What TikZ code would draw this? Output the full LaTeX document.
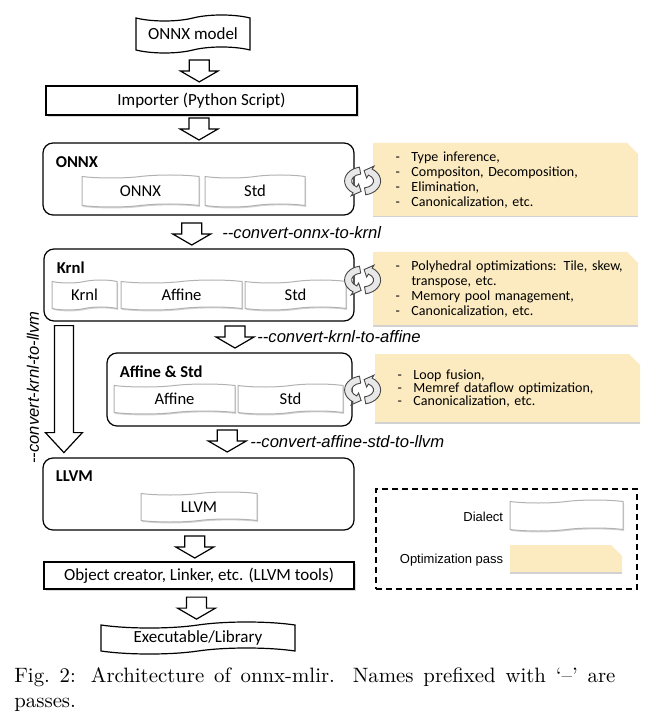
\documentclass[tikz,border=0pt]{standalone}
\usepackage{fontspec}
\usetikzlibrary{shapes.symbols,shadows,calc}
\newfontfamily\calib{Carlito}
\newfontfamily\arial{Liberation Sans}
\definecolor{passyellow}{RGB}{252,235,192}

\tikzset{
  container/.style={draw=black, line width=0.6pt, rounded corners=5pt, minimum width=155.5pt, minimum height=36pt},
  dialect/.style={tape, draw=gray!60, line width=0.5pt, fill=white, tape bend top=in and out, tape bend bottom=in and out, tape bend height=1.5pt, minimum height=15pt, inner sep=0pt, font=\calib\fontsize{8.3}{10}\selectfont, drop shadow={shadow xshift=0.5pt, shadow yshift=-0.7pt, opacity=0.35}},
  title/.style={anchor=west, inner sep=0pt, font=\calib\bfseries\fontsize{8.3}{10}\selectfont},
  toolbox/.style={draw=black, line width=0.6pt, fill=white, inner sep=0pt, font=\calib\fontsize{8.5}{10}\selectfont, drop shadow={shadow xshift=0.8pt, shadow yshift=-0.8pt, opacity=0.3}},
  filebox/.style={tape, draw=black, line width=0.6pt, fill=white, tape bend top=in and out, tape bend bottom=in and out, tape bend height=3pt, inner sep=0pt, font=\calib\fontsize{8.5}{10}\selectfont},
  passbox/.style={rectangle, inner sep=0pt, path picture={
      \fill[passyellow] (path picture bounding box.south west) -- (path picture bounding box.south east)
        -- ($(path picture bounding box.north east)+(0,-5.5pt)$) -- ($(path picture bounding box.north east)+(-5.5pt,0)$)
        -- (path picture bounding box.north west) -- cycle;
      \draw[gray!35, line width=0.8pt] (path picture bounding box.south west) -- (path picture bounding box.south east);}},
  passtext/.style={passbox, inner xsep=11.25pt, text width=110pt, align=left, font=\calib\fontsize{7}{7.5}\selectfont},
  passname/.style={anchor=west, inner sep=0pt, font=\arial\itshape\fontsize{8.3}{10}\selectfont},
  legtext/.style={anchor=east, inner sep=0pt, font=\arial\fontsize{6.5}{8}\selectfont},
  blockarr/.style={draw=black, line width=0.6pt, fill=white},
  turnarr/.style={draw=gray!55!black, line width=0.45pt, fill=gray!18}
}

% hollow arrow pointing down, centred between two anchors
\newcommand{\blockdown}[3][0,0]{%
  \draw[blockarr] ($(#2)!0.5!(#3)+(#1)+(-10,-11)$) -- ++(20,0) -- ++(0,11) -- ++(9,0)
    -- ++(-19,11) -- ++(-19,-11) -- ++(9,0) -- cycle;}
% pair of turning arrows next to a dialect box
\newcommand{\turnarrows}[1]{%
  \begin{scope}[shift={#1}, yscale=-1]
    \draw[turnarr] (100:18 and 14) arc[start angle=100, end angle=238, x radius=18, y radius=14]
      -- (238:21.5 and 17.5) -- (264:14.5 and 10.5) -- (238:7.5 and 3.5) -- (238:11 and 7)
      arc[start angle=238, end angle=100, x radius=11, y radius=7] -- cycle;
    \draw[turnarr] (280:18 and 14) arc[start angle=280, end angle=418, x radius=18, y radius=14]
      -- (418:21.5 and 17.5) -- (444:14.5 and 10.5) -- (418:7.5 and 3.5) -- (418:11 and 7)
      arc[start angle=418, end angle=280, x radius=11, y radius=7] -- cycle;
  \end{scope}}
\newcommand{\passline}[1]{\mbox{\makebox[8pt][l]{-}#1}}

\begin{document}
\begin{tikzpicture}[x=0.5pt,y=-0.5pt]
    \useasboundingbox (0,0) rectangle (648,715);

    % main flow
    \node[filebox, minimum width=57pt, minimum height=19pt] (M) at (193,34) {ONNX model};
    \node[toolbox, minimum width=155.5pt, minimum height=14.5pt] (I) at (201.5,100.5) {Importer (Python Script)};

    \node[container] (O) at (198.5,179) {};
    \node[title] (Ot) at ($(O.north west)+(13,20)$) {ONNX};
    \node[dialect, minimum width=58.5pt, minimum height=16pt] (Oa) at (140.5,191) {ONNX};
    \node[dialect, minimum width=50pt, minimum height=16pt] (Ob) at (255,191) {Std};

    \node[container, minimum width=155pt] (K) at (199,285) {};
    \node[title] (Kt) at ($(K.north west)+(13,19)$) {Krnl};
    \node[dialect, minimum width=32.5pt] (Ka) at (84.5,295) {Krnl};
    \node[dialect, minimum width=60.5pt] (Kb) at (181.5,295) {Affine};
    \node[dialect, minimum width=50.5pt] (Kc) at (295.5,295) {Std};

    \node[container, minimum width=122.5pt, minimum height=36.5pt] (A) at (229.5,389.5) {};
    \node[title] (At) at ($(A.north west)+(13,19)$) {Affine \& Std};
    \node[dialect, minimum width=60.5pt] (Aa) at (174.5,399) {Affine};
    \node[dialect, minimum width=52.5pt] (Ab) at (290.5,399) {Std};

    \node[container] (L) at (198.5,494) {};
    \node[title] (Lt) at ($(L.north west)+(13,19)$) {LLVM};
    \node[dialect, minimum width=58pt] (La) at (199,507) {LLVM};

    \node[toolbox, minimum width=155pt, minimum height=13.5pt] (B) at (199,575.5) {Object creator, Linker, etc. (LLVM tools)};
    \node[filebox, minimum width=97pt, minimum height=16pt] (E) at (198,638) {Executable/Library};

    % arrows between stages
    \blockdown[2,3]{M.south}{I.north}
    \blockdown[-1,0]{I.south}{O.north}
    \blockdown[-7,2]{O.south}{K.north}
    \blockdown[20.75,0]{K.south}{A.north}
    \blockdown[13.25,-1]{A.south}{L.north}
    \blockdown[-4,1]{L.south}{B.north}
    \blockdown[-2,1]{B.south}{E.north}
    \draw[blockarr] ($(K.south west)+(11,4)$) -- ++(19,0) -- ++(0,107) -- ++(9,0)
      -- ++(-18.5,20) -- ++(-18.5,-20) -- ++(9,0) -- cycle;

    % pass names
    \node[passname] (c1) at (222,233) {-{}-convert-onnx-to-krnl};
    \node[passname] (c2) at (257,337) {-{}-convert-krnl-to-affine};
    \node[passname] (c3) at (250,442) {-{}-convert-affine-std-to-llvm};
    \node[passname, anchor=center, rotate=90] (c4) at (33,387.5) {-{}-convert-krnl-to-llvm};

    % optimization passes
    \node[passtext, minimum height=37pt] (P1) at (505.5,180)
      {\passline{Type inference,}\\ \passline{Compositon, Decomposition,}\\ \passline{Elimination,}\\ \passline{Canonicalization, etc.}};
    \node[passtext, minimum height=37pt] (P2) at (505.5,289)
      {\passline{Polyhedral optimizations: Tile, skew,}\\ \hspace*{8pt}transpose, etc.\\ \passline{Memory pool management,}\\ \passline{Canonicalization, etc.}};
    \node[passtext, minimum height=34.5pt, font=\calib\fontsize{7}{6.65}\selectfont] (P3) at (507.5,388.5)
      {\passline{Loop fusion,}\\ \passline{Memref dataflow optimization,}\\ \passline{Canonicalization, etc.}};
    \turnarrows{($(O.east)+(8,2)$)}
    \turnarrows{($(K.east)+(8,-5)$)}
    \turnarrows{($(A.east)+(10,0.5)$)}

    % legend
    \node[draw=black, line width=0.8pt, dash pattern=on 3pt off 2pt, minimum width=130.5pt, minimum height=50pt] (LEG) at (506.5,539) {};
    \node[dialect, minimum width=56.5pt, minimum height=15.5pt] (LD) at (566.5,515.5) {};
    \node[passbox, minimum width=56pt, minimum height=14pt] (LP) at (566,559) {};
    \node[legtext] (LDt) at ($(LD.west)+(-6,1.5)$) {Dialect};
    \node[legtext] (LPt) at ($(LP.west)+(-6,1)$) {Optimization pass};

    % caption
    \node[anchor=base west, inner sep=0pt] (cap) at (14,682)
      {\parbox[t]{300.5pt}{\fontsize{10.4}{12.5}\selectfont Fig.~2: Architecture of onnx-mlir. Names prefixed with `--' are passes.}};
\end{tikzpicture}
\end{document}
